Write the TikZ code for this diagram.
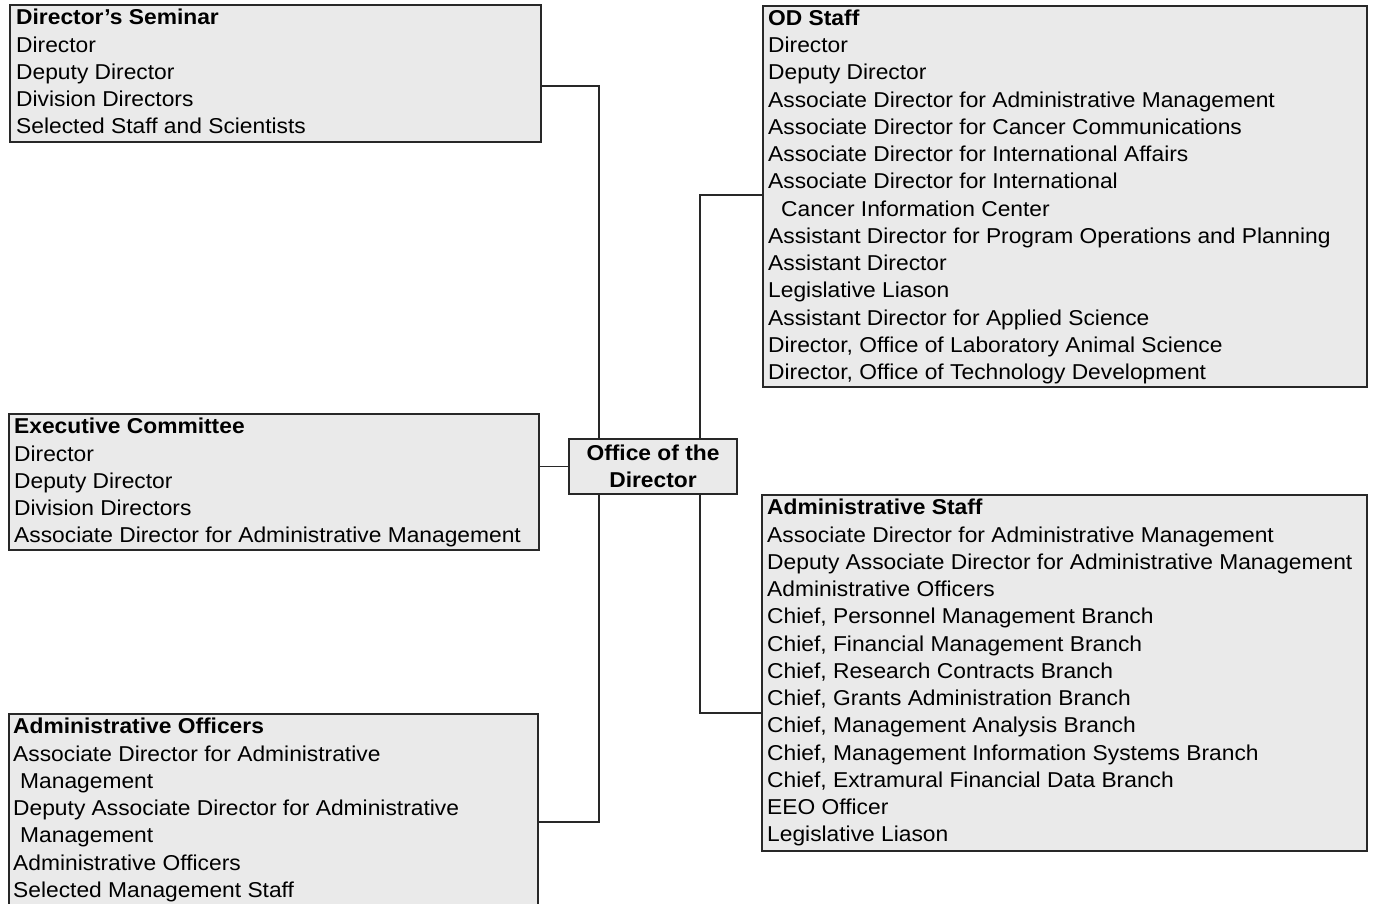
\documentclass[tikz,border=0pt]{standalone}
\usepackage{fontspec}
\setmainfont{Liberation Sans}[FakeStretch=1.06]
\definecolor{boxgray}{RGB}{234,234,234}
\definecolor{edge}{RGB}{40,40,40}
\newcommand{\bodyfont}{\fontsize{21.5}{27.25}\selectfont}
\tikzset{
  box/.style={draw=edge, line width=1.9pt, fill=boxgray, inner sep=0pt, anchor=north west},
  txt/.style={anchor=north west, inner sep=0pt, align=left, font=\bodyfont, text=black},
  ctr/.style={draw=edge, line width=1.9pt, fill=boxgray, inner sep=0pt, align=center, font=\bodyfont\bfseries},
  conn/.style={draw=edge, line width=1.9pt}
}
\begin{document}
\begin{tikzpicture}[x=1pt,y=-1pt]
\useasboundingbox (0,0) rectangle (1373,903);
\fill[white] (0,0) rectangle (1373,903);

% boxes
\node[box, minimum width=531pt, minimum height=137pt] (sem) at (9,4) {};
\node[box, minimum width=530pt, minimum height=136pt] (exe) at (8,413) {};
\node[box, minimum width=529pt, minimum height=200pt] (aoff) at (8,713) {};
\node[box, minimum width=604pt, minimum height=381pt] (ods) at (762,5) {};
\node[box, minimum width=605pt, minimum height=356pt] (ads) at (761,494) {};
\node[ctr, minimum width=168pt, minimum height=55pt] (ofd) at (653,466.5) {Office of the\\Director};

% texts
\node[txt] (semt) at ([shift={(7,5)}]sem.north west) {\textbf{Director's Seminar}\\Director\\Deputy Director\\Division Directors\\Selected Staff and Scientists};
\node[txt] (exet) at ([shift={(6,5)}]exe.north west) {\textbf{Executive Committee}\\Director\\Deputy Director\\Division Directors\\Associate Director for Administrative Management};
\node[txt] (aofft) at ([shift={(5,5)}]aoff.north west) {\textbf{Administrative Officers}\\Associate Director for Administrative\\\hspace*{7pt}Management\\Deputy Associate Director for Administrative\\\hspace*{7pt}Management\\Administrative Officers\\Selected Management Staff};
\node[txt] (odst) at ([shift={(6,4.5)}]ods.north west) {\textbf{OD Staff}\\Director\\Deputy Director\\Associate Director for Administrative Management\\Associate Director for Cancer Communications\\Associate Director for International Affairs\\Associate Director for International\\\hspace*{13pt}Cancer Information Center\\Assistant Director for Program Operations and Planning\\Assistant Director\\Legislative Liason\\Assistant Director for Applied Science\\Director, Office of Laboratory Animal Science\\Director, Office of Technology Development};
\node[txt] (adst) at ([shift={(6,5)}]ads.north west) {\textbf{Administrative Staff}\\Associate Director for Administrative Management\\Deputy Associate Director for Administrative Management\\Administrative Officers\\Chief, Personnel Management Branch\\Chief, Financial Management Branch\\Chief, Research Contracts Branch\\Chief, Grants Administration Branch\\Chief, Management Analysis Branch\\Chief, Management Information Systems Branch\\Chief, Extramural Financial Data Branch\\EEO Officer\\Legislative Liason};

% junction helpers
\coordinate (jsem) at (599,86);
\coordinate (jaoff) at (599,822);
\coordinate (jods) at (700,195);
\coordinate (jads) at (700,713);

% connectors
\draw[conn] (sem.east |- jsem) -| (ofd.north -| jsem);
\draw[conn] (exe.east |- ofd.west) -- (ofd.west);
\draw[conn] (ofd.south -| jaoff) |- (aoff.east |- jaoff);
\draw[conn] (ofd.north -| jods) |- (ods.west |- jods);
\draw[conn] (ofd.south -| jads) |- (ads.west |- jads);
\end{tikzpicture}
\end{document}
